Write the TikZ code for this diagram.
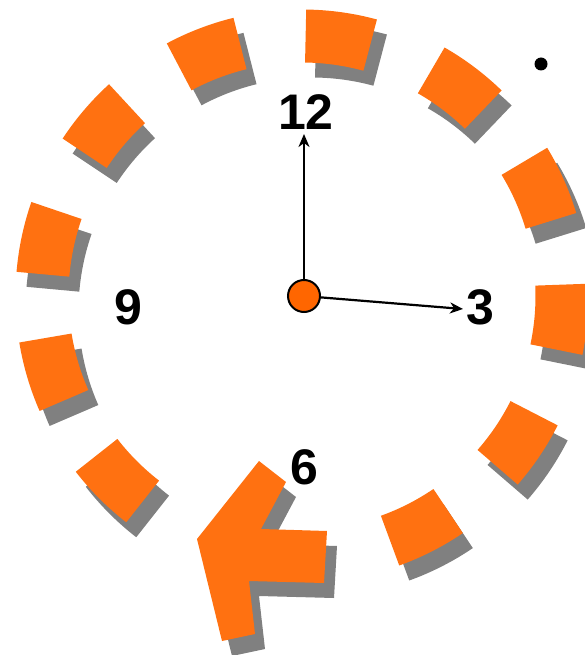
\documentclass[tikz,border=0pt]{standalone}
\usepackage{fontspec}
\setmainfont{Liberation Sans}
\usetikzlibrary{arrows.meta,calc}
\definecolor{seg}{RGB}{255,113,17}
\definecolor{hubc}{RGB}{255,102,0}
\definecolor{shadowgray}{RGB}{128,128,128}
\begin{document}
\begin{tikzpicture}[x=1pt,y=1pt,
  ring/.style={line width=53pt},
  lbl/.style={font=\fontsize{50}{50}\selectfont\bfseries, inner sep=0pt},
  hand/.style={line width=2.2pt, -{Stealth[length=13pt,width=11pt,inset=4pt]}}]
\useasboundingbox (0,0) rectangle (584,-655);
\coordinate (C) at (302,-296);
\coordinate (S) at (312,-311);
% shadows
\foreach \a in {225,196.5,168,139.5,111,82,53,24,-4.7,-34,-63}
  \draw[ring,shadowgray] ($(S)+(\a-7.2:260pt)$) arc[start angle=\a-7.2, end angle=\a+7.2, radius=260pt];
\begin{scope}[shift={(10,-15)}]
  \fill[shadowgray] (197,-539) -- (259,-461) -- (286,-482) -- (261,-529) -- (327,-531) -- (324,-583) -- (249,-581) -- (255,-634) -- (222,-641) -- cycle;
\end{scope}
% orange ring
\foreach \a in {225,196.5,168,139.5,111,82,53,24,-4.7,-34,-63}
  \draw[ring,seg] ($(C)+(\a-7.2:260pt)$) arc[start angle=\a-7.2, end angle=\a+7.2, radius=260pt];
\fill[seg] (197,-539) -- (259,-461) -- (286,-482) -- (261,-529) -- (327,-531) -- (324,-583) -- (249,-581) -- (255,-634) -- (222,-641) -- cycle;
% dot
\fill (541,-64) circle[radius=6.5pt];
% labels
\node[lbl] (n12) at (306,-112) {12};
\node[lbl] (n9) at (128.5,-307.5) {9};
\node[lbl] (n3) at (480,-307) {3};
\node[lbl] (n6) at (304.5,-467.5) {6};
% hands
\node[circle, draw, fill=hubc, line width=2pt, minimum size=32pt, inner sep=0pt] (hub) at (304,-296) {};
\coordinate (t12) at (304,-134);
\coordinate (t3) at (463,-309);
\draw[hand] (hub) -- (t12);
\draw[hand] (hub) -- (t3);
\end{tikzpicture}
\end{document}
